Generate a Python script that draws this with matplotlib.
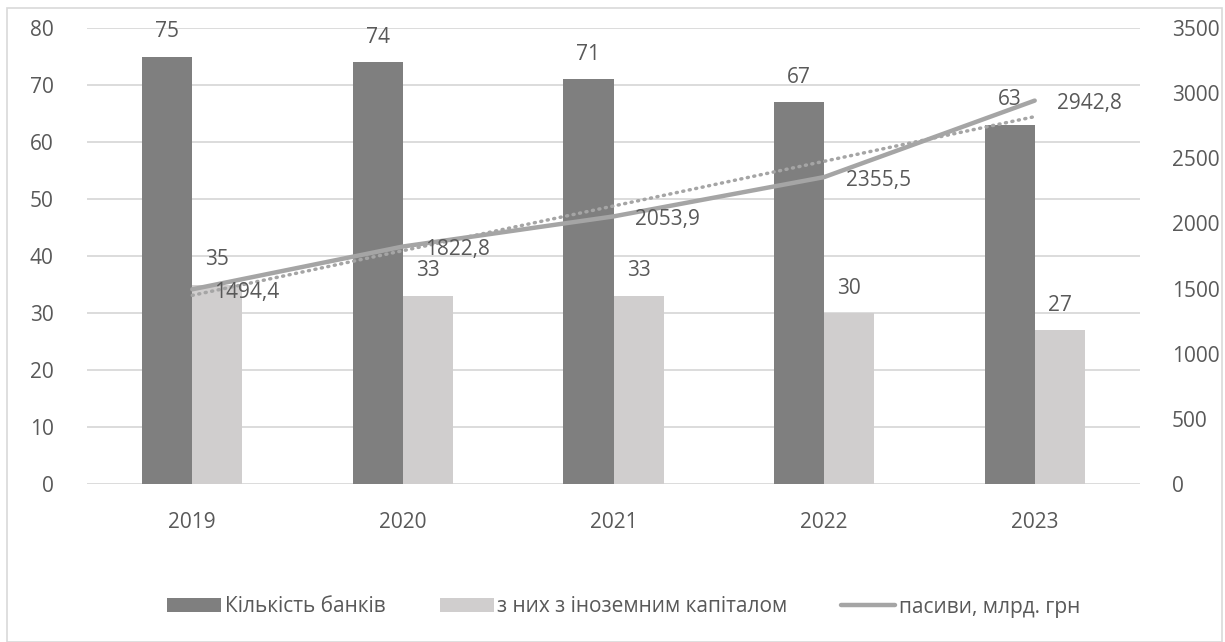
import numpy as np
import matplotlib.pyplot as plt
from matplotlib.patches import Rectangle

plt.rcParams['font.family'] = ['Open Sans', 'DejaVu Sans']

# data
years = ['2019', '2020', '2021', '2022', '2023']
banks = [75, 74, 71, 67, 63]
foreign = [35, 33, 33, 30, 27]
liabilities = [1494.4, 1822.8, 2053.9, 2355.5, 2942.8]
liab_labels = ['1494,4', '1822,8', '2053,9', '2355,5', '2942,8']

dark = '#7F7F7F'
light = '#D0CECE'
line_c = '#A5A5A5'
grid_c = '#D9D9D9'
txt = '#595959'

fig = plt.figure(figsize=(12.25, 6.42), dpi=100)
ax = fig.add_axes([87 / 1225, 1 - 484 / 642, (1140 - 87) / 1225, (484 - 28) / 642])
ax2 = ax.twinx()

x = np.arange(len(years))
w = 0.2375
b1 = ax.bar(x - w / 2, banks, w, color=dark, label='Кількість банків', zorder=2)
b2 = ax.bar(x + w / 2, foreign, w, color=light, label='з них з іноземним капіталом', zorder=2)

for rect, v in list(zip(b1, banks)) + list(zip(b2, foreign)):
    ax.annotate(str(v), (rect.get_x() + rect.get_width() / 2, v),
                xytext=(0, 25), textcoords='offset pixels',
                ha='center', va='center', fontsize=15, color=txt)

ax.set_ylim(0, 80)
ax.set_yticks(range(0, 81, 10))
ax.set_xlim(-0.5, len(years) - 0.5)
ax.set_xticks(x)
ax.set_xticklabels(years)
ax.yaxis.grid(True, color=grid_c, lw=1.3, zorder=0)
ax.set_axisbelow(True)

# linear trend of the liabilities series (as Excel's trendline)
k, c0 = np.polyfit(x, liabilities, 1)
ax2.plot(x, k * x + c0, color=line_c, lw=2.5, linestyle=(0, (0.3, 1.6)),
         dash_capstyle='round', zorder=3)
ln, = ax2.plot(x, liabilities, color=line_c, lw=3.2, solid_capstyle='round',
               label='пасиви, млрд. грн', zorder=4)
for xi, v, s in zip(x, liabilities, liab_labels):
    ax2.annotate(s, (xi, v), xytext=(22, -3), textcoords='offset pixels',
                 ha='left', va='center', fontsize=15, color=txt, zorder=5)

ax2.set_ylim(0, 3500)
ax2.set_yticks(range(0, 3501, 500))

for a in (ax, ax2):
    for sp in a.spines.values():
        sp.set_visible(False)
    a.tick_params(length=0, labelsize=15, labelcolor=txt)
ax.tick_params(axis='y', pad=24)
ax2.tick_params(axis='y', pad=23)
ax.tick_params(axis='x', pad=20)

fig.legend(handles=[b1, b2, ln], loc='center', bbox_to_anchor=(0.509, 1 - 607 / 642),
           ncol=3, frameon=False, fontsize=15, labelcolor=txt,
           handlelength=2.6, handleheight=0.65, handletextpad=0.15, columnspacing=2.6)

fig.patches.append(Rectangle((7 / 1225, 0), (1222 - 7) / 1225, 1 - 8 / 642,
                             transform=fig.transFigure, fill=False,
                             edgecolor=grid_c, lw=1.2))

fig.savefig('out.png', dpi=100)
